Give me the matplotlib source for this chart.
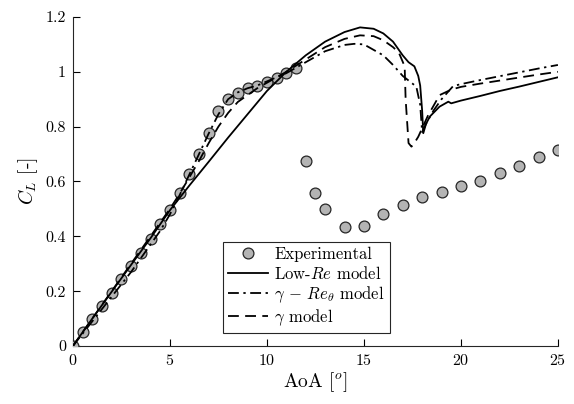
import matplotlib

matplotlib.use("Agg")
import matplotlib.pyplot as plt

plt.rcParams["font.family"] = "serif"
plt.rcParams["font.serif"] = ["cmr10", "DejaVu Serif"]
plt.rcParams["mathtext.fontset"] = "cm"
plt.rcParams["axes.formatter.use_mathtext"] = True

# experimental lift coefficient
aoa_exp = [0, 0.5, 1, 1.5, 2, 2.5, 3, 3.5, 4, 4.5, 5, 5.5, 6, 6.5, 7, 7.5, 8, 8.5,
           9, 9.5, 10, 10.5, 11, 11.5, 12, 12.5, 13, 14, 15, 16, 17, 18, 19, 20,
           21, 22, 23, 24, 25]
cl_exp = [0, 0.05, 0.1, 0.145, 0.195, 0.245, 0.29, 0.34, 0.391, 0.444, 0.496,
          0.557, 0.626, 0.699, 0.778, 0.857, 0.902, 0.922, 0.94, 0.948, 0.964,
          0.976, 0.995, 1.013, 0.675, 0.557, 0.5, 0.435, 0.439, 0.481, 0.514,
          0.545, 0.562, 0.585, 0.602, 0.632, 0.656, 0.688, 0.715]

# Low-Re model
aoa_lowre = [0, 1, 2, 3, 4, 5, 6, 7, 8, 9, 10, 10.5, 11, 12, 13, 14, 14.8, 15.5,
             16, 16.5, 17.0, 17.3, 17.6, 17.8, 17.9, 18.0, 18.06, 18.2, 18.4,
             18.9, 19.35, 19.5, 20, 21, 22, 23, 24, 25]
cl_lowre = [0, 0.1, 0.198, 0.296, 0.393, 0.495, 0.585, 0.672, 0.76, 0.845, 0.93,
            0.965, 1.0, 1.06, 1.11, 1.145, 1.162, 1.157, 1.14, 1.11, 1.06, 1.035,
            1.02, 0.985, 0.95, 0.86, 0.776, 0.81, 0.837, 0.873, 0.891, 0.885,
            0.895, 0.912, 0.93, 0.946, 0.963, 0.98]

# gamma - Re_theta model
aoa_gret = [0, 1, 2, 3, 4, 4.5, 5, 5.5, 6, 6.5, 7, 7.5, 8, 8.5, 9, 9.5, 10, 10.5,
            11, 12, 13, 14, 14.5, 15, 16, 16.5, 17, 17.7, 17.9, 18.0, 18.2, 18.6,
            19, 19.6, 20, 21, 22, 23, 24, 25]
cl_gret = [0, 0.09, 0.18, 0.27, 0.37, 0.42, 0.48, 0.55, 0.625, 0.7, 0.775, 0.845,
           0.9, 0.925, 0.94, 0.95, 0.965, 0.98, 0.995, 1.035, 1.075, 1.098, 1.102,
           1.1, 1.06, 1.025, 0.985, 0.946, 0.88, 0.78, 0.81, 0.86, 0.9, 0.948,
           0.955, 0.97, 0.984, 0.998, 1.012, 1.025]

# gamma model
aoa_gamma = [0, 1, 2, 3, 4, 5, 5.5, 6, 6.5, 7, 7.5, 8, 8.5, 9, 9.5, 10, 10.5, 11,
             12, 13, 14, 14.8, 15.5, 16, 16.5, 16.8, 17.1, 17.15, 17.3, 17.45,
             17.6, 17.8, 18.3, 18.9, 19.5, 20, 21, 22, 23, 24, 25]
cl_gamma = [0, 0.1, 0.2, 0.3, 0.4, 0.5, 0.555, 0.615, 0.675, 0.74, 0.8, 0.85,
            0.89, 0.915, 0.94, 0.96, 0.98, 1.0, 1.045, 1.09, 1.12, 1.133, 1.13,
            1.115, 1.09, 1.07, 1.02, 0.9, 0.74, 0.727, 0.74, 0.763, 0.84, 0.915,
            0.935, 0.945, 0.957, 0.968, 0.979, 0.99, 1.0]

xticks = [0, 5, 10, 15, 20, 25]
yticks = [0, 0.2, 0.4, 0.6, 0.8, 1.0, 1.2]
ytick_labels = ["0", "0.2", "0.4", "0.6", "0.8", "1", "1.2"]

fig = plt.figure(figsize=(5.74, 4.04), dpi=100)
ax = fig.add_axes([0.127, 0.1436, 0.845, 0.8144])

ax.plot(aoa_exp, cl_exp, "o", ms=7.8, mfc="#b4b4b4", mec="#262626", mew=0.9,
        label="Experimental", zorder=3)
ax.plot(aoa_lowre, cl_lowre, "-", color="k", lw=1.3, label="Low-$Re$ model", zorder=4)
ax.plot(aoa_gret, cl_gret, color="k", lw=1.3, dashes=(6, 2.5, 1.3, 2.5),
        label=r"$\gamma$ $-$ $Re_\theta$ model", zorder=4)
ax.plot(aoa_gamma, cl_gamma, color="k", lw=1.3, dashes=(6, 3.5),
        label=r"$\gamma$ model", zorder=4)

ax.set_xlim(0, 25)
ax.set_ylim(0, 1.2)
ax.set_xticks(xticks)
ax.set_yticks(yticks)
ax.set_yticklabels(ytick_labels)
ax.tick_params(direction="in", length=5, width=0.8, labelsize=11.5, pad=5)
for side in ("top", "right"):
    ax.spines[side].set_visible(False)
for side in ("left", "bottom"):
    ax.spines[side].set_color("#262626")
    ax.spines[side].set_linewidth(0.8)
for lbl in ax.get_xticklabels() + ax.get_yticklabels():
    lbl.set_clip_on(False)

ax.set_xlabel("AoA [$^o$]", fontsize=14, labelpad=2)
ax.set_ylabel("$C_L$ [-]", fontsize=14, labelpad=4)

leg = ax.legend(loc="lower left", bbox_to_anchor=(0.309, 0.04), fontsize=12,
                fancybox=False, framealpha=1, edgecolor="#262626",
                handlelength=2.4, handletextpad=0.4, borderpad=0.3,
                labelspacing=0.15, borderaxespad=0)
leg.get_frame().set_linewidth(0.8)

fig.savefig("out.png", dpi=100)
